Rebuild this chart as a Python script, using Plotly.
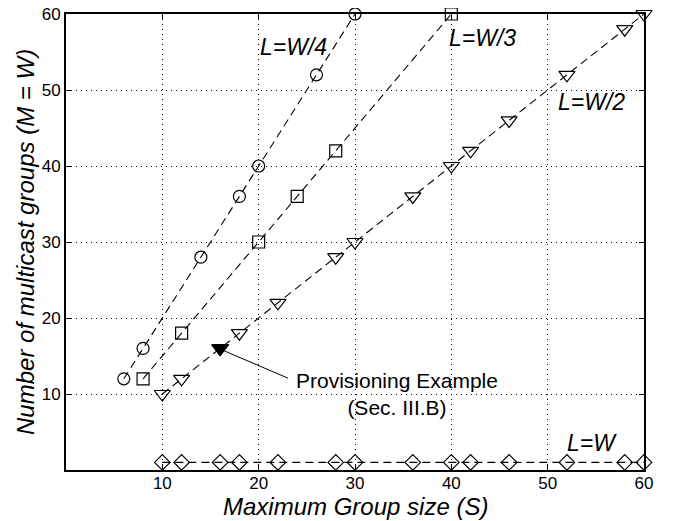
import plotly.graph_objects as go

# L = W/4 (circles)
x_w4 = [6, 8, 14, 18, 20, 26, 30]
y_w4 = [12, 16, 28, 36, 40, 52, 60]
# L = W/3 (squares)
x_w3 = [8, 12, 20, 24, 28, 40]
y_w3 = [12, 18, 30, 36, 42, 60]
# L = W/2 (down triangles)
x_w2 = [10, 12, 16, 18, 22, 28, 30, 36, 40, 42, 46, 52, 58, 60]
y_w2 = [10, 12, 16, 18, 22, 28, 30, 36, 40, 42, 46, 52, 58, 60]
# L = W (diamonds)
x_w1 = [10, 12, 16, 18, 22, 28, 30, 36, 40, 42, 46, 52, 58, 60]
y_w1 = [1] * 14
# provisioning example point
x_ex = [16]
y_ex = [16]

tick_vals = [10, 20, 30, 40, 50, 60]
FONT = "Arial"

fig = go.Figure()

def add_series(x, y, symbol, size):
    fig.add_trace(go.Scatter(
        x=x, y=y, mode="lines+markers",
        line=dict(color="black", width=1.1, dash="8px,5px"),
        marker=dict(symbol=symbol, size=size, color="black",
                    line=dict(color="black", width=1.2)),
        showlegend=False, cliponaxis=False,
    ))

add_series(x_w4, y_w4, "circle-open", 12)
add_series(x_w3, y_w3, "square-open", 12)
add_series(x_w2, y_w2, "triangle-down-open", 14)
add_series(x_w1, y_w1, "diamond-open", 12)

fig.add_trace(go.Scatter(
    x=x_ex, y=y_ex, mode="markers",
    marker=dict(symbol="triangle-down", size=15, color="black",
                line=dict(color="black", width=1)),
    showlegend=False, cliponaxis=False,
))

labels = [("L=W/4", 19.9, 55.7), ("L=W/3", 39.5, 56.8), ("L=W/2", 50.9, 48.4), ("L=W", 51.8, 3.6)]
for txt, lx, ly in labels:
    fig.add_annotation(x=lx, y=ly, text="<i>" + txt + "</i>", showarrow=False, xanchor="left",
                       font=dict(family=FONT, size=23, color="black"))

fig.add_annotation(x=34.4, y=10.0, text="Provisioning Example<br>(Sec. III.B)",
                   showarrow=False, align="center",
                   font=dict(family=FONT, size=21, color="black"))
fig.add_annotation(x=16.2, y=15.8, ax=23.2, ay=12.0, axref="x", ayref="y",
                   text="", showarrow=True, arrowhead=0, arrowwidth=1,
                   arrowcolor="black")

# axis titles
fig.add_annotation(x=0.5, y=-0.079, xref="paper", yref="paper", showarrow=False,
                   text="<i>Maximum Group size (S)</i>", yanchor="middle",
                   font=dict(family=FONT, size=24, color="black"))
fig.add_annotation(x=-0.071, y=0.5, xref="paper", yref="paper", showarrow=False,
                   text="<i>Number of multicast groups (M = W)</i>", textangle=-90,
                   xanchor="center", yanchor="middle",
                   font=dict(family=FONT, size=24, color="black"))

axis_common = dict(
    tickvals=tick_vals, ticks="inside", ticklen=5, tickcolor="black", tickwidth=1,
    showline=True, linecolor="black", linewidth=2, mirror="ticks",
    showgrid=True, gridcolor="black", griddash="1px,4px", gridwidth=1,
    zeroline=False, tickfont=dict(family=FONT, size=17, color="black"),
    automargin=False, ticklabeloverflow="allow",
)

fig.update_xaxes(range=[0, 60], ticklabelstandoff=-3, **axis_common)
fig.update_yaxes(range=[0, 60], **axis_common)

fig.update_layout(
    width=673, height=521,
    margin=dict(l=58, r=37, t=6, b=59),
    plot_bgcolor="white", paper_bgcolor="white",
)

fig.write_html("out.html")
